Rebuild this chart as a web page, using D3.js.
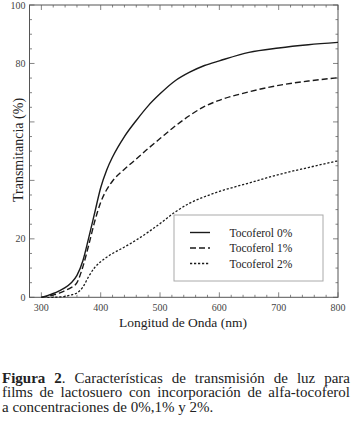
<!DOCTYPE html>
<html>
<head>
<meta charset="utf-8">
<script src="https://cdn.jsdelivr.net/npm/d3@7"></script>
<style>
  body { margin: 0; background: #fff; }
  svg { display: block; }
  text { font-family: "Liberation Serif", "Times New Roman", Times, serif; }
  .tick-label { font-size: 10px; fill: #444; }
</style>
</head>
<body>
<svg id="svg" width="354" height="424"></svg>
<script>
const SVG = d3.select("#svg");

// longitud de onda (nm)
const wavelengths = [300, 310, 320, 330, 340, 350, 360, 370, 380, 390, 400, 410, 420, 440, 460, 480, 500, 525, 550, 575, 600, 650, 700, 750, 800];
const toco0 = [0, 0.6, 1.3, 2.2, 3.3, 4.9, 7.5, 12.5, 20.5, 29, 37.5, 43.5, 48, 55, 60.5, 65.5, 69.6, 74, 77, 79.3, 80.9, 83.8, 85.3, 86.4, 87.2];
const toco1 = [0, 0.3, 0.8, 1.4, 2.3, 3.3, 5, 10.5, 18, 26, 32.5, 36.8, 39.8, 43.8, 47.3, 50.9, 54.3, 58.5, 62.2, 65.3, 67.4, 70.3, 72.5, 74, 75.1];
const toco2 = [null, 0, 0, 0.1, 0.3, 0.8, 1.5, 3.5, 7.2, 10.2, 12.2, 13.7, 15, 17.2, 19.6, 22.3, 25.2, 29.1, 32.2, 34.4, 36.2, 39.1, 42, 44.4, 46.7];
const seriesNames = ["Tocoferol 0%", "Tocoferol 1%", "Tocoferol 2%"];
const dashes = [null, "6,3", "2.2,1.8"];
const xTicks = [300, 400, 500, 600, 700, 800];
const yTicks = [0, 20, 40, 60, 80, 100];
const yLabels = [0, 20, 80, 100];

const L = 29.5, R = 338, T = 5, B = 297.3;
var x = d3.scaleLinear().domain([280, 800]).range([L, R]),
  y = d3.scaleLinear().domain([0, 100]).range([B, T]);

var g = SVG.append("g");

// ticks (inward, on all four sides)
var xMinor = d3.range(280, 801, 20), yMinor = d3.range(0, 101, 5);
function tick(x1, y1, x2, y2) {
  g.append("line").attr("x1", x1).attr("y1", y1).attr("x2", x2).attr("y2", y2)
    .attr("stroke", "#666").attr("stroke-width", 0.8);
}
xMinor.forEach((v) => {
  var len = xTicks.includes(v) ? 5 : 2.5;
  tick(x(v), B, x(v), B - len);
  tick(x(v), T, x(v), T + len);
});
yMinor.forEach((v) => {
  var len = yTicks.includes(v) ? 5 : 2.5;
  tick(L, y(v), L + len, y(v));
  tick(R, y(v), R - len, y(v));
});

g.append("rect").attr("x", L).attr("y", T).attr("width", R - L).attr("height", B - T)
  .attr("fill", "none").attr("stroke", "#555").attr("stroke-width", 1);

g.selectAll(".xl").data(xTicks).join("text")
  .attr("class", "tick-label").attr("x", (d) => x(d)).attr("y", 310.5)
  .attr("text-anchor", "middle").text((d) => d);
g.selectAll(".yl").data(yLabels).join("text")
  .attr("class", "tick-label").attr("x", 25.5).attr("y", (d) => y(d) + 3.5)
  .attr("text-anchor", "end").text((d) => d);

// curves
var line = d3.line()
  .defined((d) => d[1] != null)
  .x((d) => x(d[0])).y((d) => y(d[1]))
  .curve(d3.curveMonotoneX);
[toco0, toco1, toco2].forEach((s, i) => {
  g.append("path")
    .attr("d", line(wavelengths.map((w, j) => [w, s[j]])))
    .attr("fill", "none").attr("stroke", "#1a1a1a")
    .attr("stroke-width", i == 2 ? 1.3 : 1.4)
    .attr("stroke-dasharray", dashes[i]);
});

// legend
var lg = g.append("g");
lg.append("rect").attr("x", 174).attr("y", 215).attr("width", 149).attr("height", 66)
  .attr("fill", "#fff").attr("stroke", "#aaa").attr("stroke-width", 1);
seriesNames.forEach((n, i) => {
  var yy = 232.5 + i * 15.5;
  lg.append("line").attr("x1", 190).attr("x2", 210).attr("y1", yy).attr("y2", yy)
    .attr("stroke", "#1a1a1a").attr("stroke-width", 1.4).attr("stroke-dasharray", dashes[i]);
  lg.append("text").attr("x", 229.5).attr("y", yy + 4)
    .attr("font-size", 11.5).attr("fill", "#222").text(n);
});

// axis titles
g.append("text").attr("x", 183).attr("y", 326.5).attr("text-anchor", "middle")
  .attr("font-size", 13.5).attr("fill", "#222")
  .text("Longitud de Onda (nm)");
g.append("text").attr("transform", "translate(23,150) rotate(-90)").attr("text-anchor", "middle")
  .attr("font-size", 14).attr("fill", "#222")
  .text("Transmitancia (%)");

// caption, justified by word-spacing
var capLines = [
  [["Figura 2", true], [". Características de transmisión de luz para", false]],
  [["films de lactosuero con incorporación de alfa-tocoferol", false]],
  [["a concentraciones de 0%,1% y 2%.", false]],
];
capLines.forEach((parts, i) => {
  var t = SVG.append("text").attr("x", 2).attr("y", 382.5 + i * 14.6)
    .attr("font-size", 15).attr("fill", "#222");
  parts.forEach((p) => {
    t.append("tspan").attr("font-weight", p[1] ? "bold" : null).text(p[0]);
  });
  if (i < 2) {
    var w = t.node().getComputedTextLength(),
      spaces = parts.map((p) => p[0]).join("").split(" ").length - 1;
    t.style("word-spacing", (350 - 2 - w) / spaces + "px");
  }
});
</script>
</body>
</html>
